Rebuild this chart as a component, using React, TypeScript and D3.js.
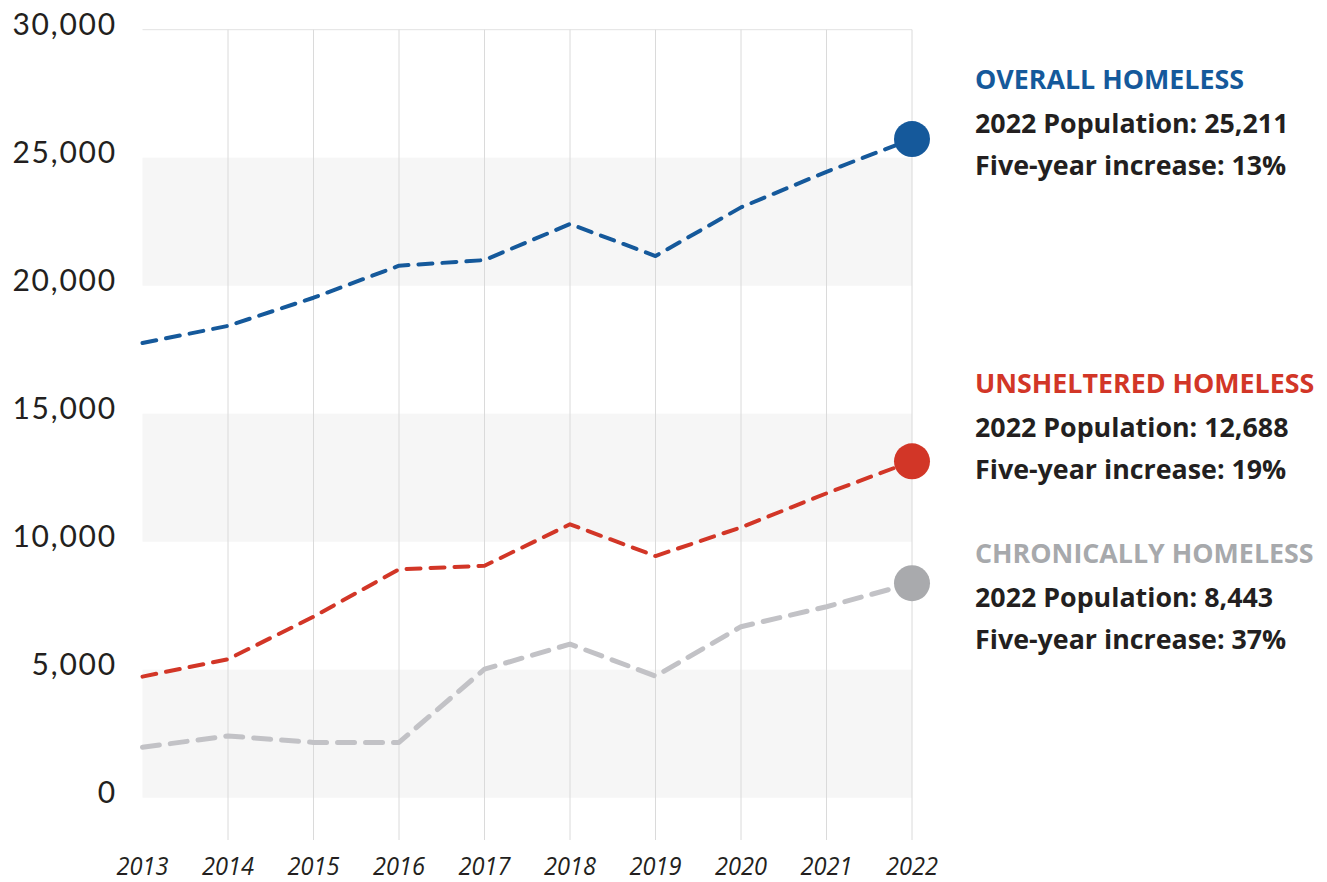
import React from "react";
import * as d3 from "d3";

const years = [2013, 2014, 2015, 2016, 2017, 2018, 2019, 2020, 2021, 2022];
const overall = [17760, 18430, 19530, 20780, 21000, 22410, 21160, 23060, 24450, 25730];
const unsheltered = [4730, 5410, 7070, 8920, 9060, 10680, 9440, 10560, 11890, 13140];
const chronic = [1970, 2410, 2160, 2160, 5020, 6000, 4750, 6680, 7460, 8380];
const yTicks = [0, 5000, 10000, 15000, 20000, 25000, 30000];
const bands = [[20000, 25000], [10000, 15000], [0, 5000]];

const seriesNames = ["OVERALL HOMELESS", "UNSHELTERED HOMELESS", "CHRONICALLY HOMELESS"];
const populations = ["25,211", "12,688", "8,443"];
const increases = ["13%", "19%", "37%"];

const W = 1327;
const H = 882;

export default function App() {
  const x = d3.scaleLinear().domain([2013, 2022]).range([142.5, 912]);
  const y = d3.scaleLinear().domain([0, 30000]).range([797.7, 29.7]);
  const line = d3
    .line<number>()
    .x((_, i) => x(years[i]))
    .y((d) => y(d));

  const series = [
    { data: overall, color: "#15599b", dot: "#15599b", width: 4, dash: "14,10", title: "#15599b", top: 89 },
    { data: unsheltered, color: "#d23627", dot: "#d23627", width: 4, dash: "14,10", title: "#d23627", top: 393 },
    { data: chronic, color: "#c2c2c6", dot: "#a9aaad", width: 5, dash: "17,11", title: "#a7a9ac", top: 563 },
  ];

  const fmt = d3.format(",");

  return (
    <svg
      width={W}
      height={H}
      style={{ position: "absolute", left: 0, top: 0, background: "#fff" }}
    >
      {bands.map(([a, b], i) => (
        <rect key={i} x={x(2013)} y={y(b)} width={x(2022) - x(2013)} height={y(a) - y(b)} fill="#f6f6f6" />
      ))}
      <line x1={x(2013)} x2={x(2022)} y1={y(30000)} y2={y(30000)} stroke="#e2e2e2" strokeWidth={1} />
      {years.slice(1).map((yr) => (
        <line key={yr} x1={x(yr)} x2={x(yr)} y1={y(30000)} y2={840} stroke="#dadada" strokeWidth={1} />
      ))}
      {yTicks.map((t) => (
        <text
          key={t}
          x={117}
          y={y(t) + 5}
          textAnchor="end"
          fontFamily="Lato"
          fontSize={30}
          letterSpacing={1.8}
          fill="#231f20"
        >
          {fmt(t)}
        </text>
      ))}
      {years.map((yr) => (
        <text
          key={yr}
          x={x(yr) - 26}
          y={875}
          fontFamily="'Open Sans'"
          fontStyle="italic"
          fontSize={25}
          textLength={52}
          lengthAdjust="spacingAndGlyphs"
          fill="#231f20"
        >
          {yr}
        </text>
      ))}
      {series.map((s, i) => (
        <g key={i}>
          <path
            d={line(s.data) || ""}
            fill="none"
            stroke={s.color}
            strokeWidth={s.width}
            strokeDasharray={s.dash}
            strokeLinecap="round"
            strokeLinejoin="round"
          />
          <circle cx={x(2022)} cy={y(s.data[s.data.length - 1])} r={18} fill={s.dot} />
        </g>
      ))}
      {series.map((s, i) => (
        <g key={"lg" + i} fontFamily="'Open Sans'" fontWeight={700} fontSize={26.8}>
          <text x={975} y={s.top} fill={s.title}>
            {seriesNames[i]}
          </text>
          <text x={975} y={s.top + 44} fill="#231f20">
            {"2022 Population: " + populations[i]}
          </text>
          <text x={975} y={s.top + 86} fill="#231f20">
            {"Five-year increase: " + increases[i]}
          </text>
        </g>
      ))}
    </svg>
  );
}
